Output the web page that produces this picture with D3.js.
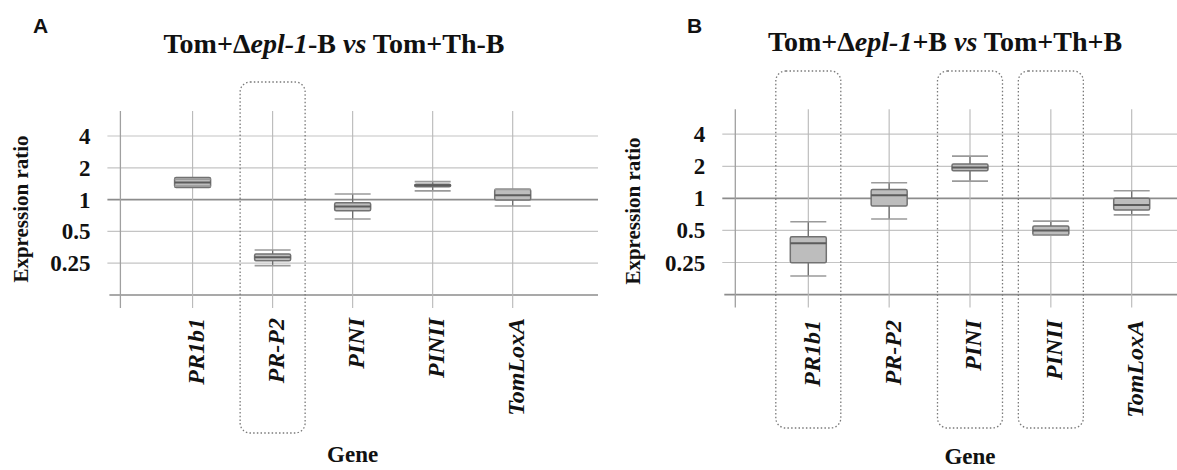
<!DOCTYPE html>
<html>
<head>
<meta charset="utf-8">
<script src="https://cdn.jsdelivr.net/npm/d3@7"></script>
<style>
body { margin: 0; background: #fff; }
text { font-family: "Liberation Serif", "Times New Roman", serif; font-weight: bold; fill: #111; }
</style>
</head>
<body>
<svg></svg>
<script>
var width = 1177,
    height = 470;

var genes = ["PR1b1", "PR-P2", "PINI", "PINII", "TomLoxA"];
var tickValues = [4, 2, 1, 0.5, 0.25];
var tickLabels = ["4", "2", "1", "0.5", "0.25"];

// A : Tom+Δepl-1-B vs Tom+Th-B
var medianA = [1.45, 0.285, 0.86, 1.37, 1.1];
var q1A     = [1.30, 0.264, 0.785, 1.32, 0.99];
var q3A     = [1.62, 0.306, 0.935, 1.40, 1.25];
var lowA    = [1.34, 0.237, 0.655, 1.21, 0.87];
var highA   = [1.56, 0.333, 1.13, 1.48, 1.25];
var markedA = ["PR-P2"];

// B : Tom+Δepl-1+B vs Tom+Th+B
var medianB = [0.379, 1.07, 1.95, 0.50, 0.865];
var q1B     = [0.249, 0.847, 1.815, 0.453, 0.777];
var q3B     = [0.436, 1.21, 2.10, 0.55, 1.0];
var lowB    = [0.187, 0.64, 1.45, 0.45, 0.70];
var highB   = [0.603, 1.40, 2.49, 0.612, 1.18];
var markedB = ["PR1b1", "PINI", "PINII"];

var svg = d3.select("svg").attr("width", width).attr("height", height);

function rows(med, q1, q3, lo, hi) {
    return genes.map(function(g, i) {
        return {gene: g, median: med[i], q1: q1[i], q3: q3[i], low: lo[i], high: hi[i]};
    });
}

function drawPanel(o) {
    var g = svg.append("g");
    var x = d3.scalePoint().domain(genes).range([o.first, o.last]);
    var y = d3.scaleLog().base(2).domain([0.125, 4]).range([o.bottom, o.top4]);
    var boxW = 36;

    // horizontal grid
    g.selectAll(".hgrid").data(tickValues.concat([0.125]))
        .enter().append("line")
        .attr("x1", function(d) { return d == 0.125 ? o.axisX - 11 : o.axisX - 13; })
        .attr("x2", o.right)
        .attr("y1", function(d) { return y(d); })
        .attr("y2", function(d) { return y(d); })
        .style("stroke", function(d) { return (d == 1 || d == 0.125) ? "#8c8c8c" : "#c4c4c4"; })
        .style("stroke-width", function(d) { return (d == 1 || d == 0.125) ? 1.6 : 1.2; });

    // vertical grid + y axis
    g.selectAll(".vgrid").data(genes)
        .enter().append("line")
        .attr("x1", function(d) { return x(d); })
        .attr("x2", function(d) { return x(d); })
        .attr("y1", y(4) - 25)
        .attr("y2", y(0.125) + 13)
        .style("stroke", "#b8b8b8")
        .style("stroke-width", 1.1);
    g.append("line")
        .attr("x1", o.axisX).attr("x2", o.axisX)
        .attr("y1", y(4) - 25).attr("y2", y(0.125) + 13)
        .style("stroke", "#a0a0a0")
        .style("stroke-width", 1.3);

    // dotted frames
    g.selectAll(".frame").data(o.marked)
        .enter().append("rect")
        .attr("x", function(d) { return x(d) - 32.5; })
        .attr("y", o.frameTop)
        .attr("width", 65)
        .attr("height", o.frameBottom - o.frameTop)
        .attr("rx", 10)
        .style("fill", "none")
        .style("stroke", "#7a7a7a")
        .style("stroke-width", 1.3)
        .style("stroke-dasharray", "1.5,2.2");

    // boxes
    var box = g.selectAll(".box").data(o.data).enter().append("g");
    box.append("line")
        .attr("x1", function(d) { return x(d.gene); })
        .attr("x2", function(d) { return x(d.gene); })
        .attr("y1", function(d) { return y(d.high); })
        .attr("y2", function(d) { return y(d.low); })
        .style("stroke", "#6e6e6e")
        .style("stroke-width", 1.3);
    box.append("rect")
        .attr("x", function(d) { return x(d.gene) - boxW / 2; })
        .attr("y", function(d) { return y(d.q3); })
        .attr("width", boxW)
        .attr("height", function(d) { return y(d.q1) - y(d.q3); })
        .attr("rx", 1.5)
        .style("fill", "#bdbdbd")
        .style("stroke", "#727272")
        .style("stroke-width", 1.5);
    box.selectAll(".cap").data(function(d) { return [{gene: d.gene, v: d.high}, {gene: d.gene, v: d.low}]; })
        .enter().append("line")
        .attr("x1", function(d) { return x(d.gene) - boxW / 2; })
        .attr("x2", function(d) { return x(d.gene) + boxW / 2; })
        .attr("y1", function(d) { return y(d.v); })
        .attr("y2", function(d) { return y(d.v); })
        .style("stroke", "#9a9a9a")
        .style("stroke-width", 1.6);
    box.append("line")
        .attr("x1", function(d) { return x(d.gene) - boxW / 2; })
        .attr("x2", function(d) { return x(d.gene) + boxW / 2; })
        .attr("y1", function(d) { return y(d.median); })
        .attr("y2", function(d) { return y(d.median); })
        .style("stroke", "#5c5c5c")
        .style("stroke-width", 2);

    // tick labels
    g.selectAll(".tick").data(tickValues)
        .enter().append("text")
        .attr("x", o.axisX - 30)
        .attr("y", function(d) { return y(d); })
        .attr("dy", "0.35em")
        .attr("text-anchor", "end")
        .style("font-size", "23px")
        .text(function(d, i) { return tickLabels[i]; });

    // gene labels
    g.selectAll(".glab").data(genes)
        .enter().append("text")
        .attr("transform", function(d) { return "translate(" + (x(d) + 3) + "," + o.labelEnd + ") rotate(-90)"; })
        .attr("dy", "0.35em")
        .attr("text-anchor", "end")
        .style("font-size", "24px")
        .style("font-style", "italic")
        .text(function(d) { return d; });

    // axis titles
    g.append("text")
        .attr("transform", "translate(" + o.yTitleX + "," + o.yTitleY + ") rotate(-90)")
        .attr("dy", "0.35em")
        .attr("text-anchor", "middle")
        .style("font-size", "21px")
        .text("Expression ratio");
    g.append("text")
        .attr("x", (o.first + o.last) / 2)
        .attr("y", o.geneY)
        .attr("text-anchor", "middle")
        .style("font-size", "23px")
        .text("Gene");

    // panel title
    var t = g.append("text")
        .attr("x", o.titleX)
        .attr("y", o.titleY)
        .attr("text-anchor", "middle")
        .style("font-size", "28px");
    o.title.forEach(function(p) {
        t.append("tspan").style("font-style", p[1] ? "italic" : "normal").text(p[0]);
    });

    g.append("text")
        .attr("x", o.letterX)
        .attr("y", 33)
        .style("font-family", "'Liberation Sans', Arial, sans-serif")
        .style("font-size", "21px")
        .text(o.letter);
}

drawPanel({
    letter: "A", letterX: 33,
    title: [["Tom+Δ", false], ["epl-1", true], ["-B ", false], ["vs", true], [" Tom+Th-B", false]],
    titleX: 334, titleY: 53,
    axisX: 120.4, first: 192.6, last: 512.7, right: 598,
    bottom: 295, top4: 136,
    frameTop: 82, frameBottom: 433,
    labelEnd: 318, geneY: 462,
    yTitleX: 21, yTitleY: 209,
    marked: markedA,
    data: rows(medianA, q1A, q3A, lowA, highA)
});

drawPanel({
    letter: "B", letterX: 687,
    title: [["Tom+Δ", false], ["epl-1", true], ["+B ", false], ["vs", true], [" Tom+Th+B", false]],
    titleX: 945, titleY: 51,
    axisX: 735.3, first: 808.3, last: 1131.7, right: 1177,
    bottom: 294.6, top4: 134.2,
    frameTop: 71, frameBottom: 428,
    labelEnd: 320, geneY: 464,
    yTitleX: 633, yTitleY: 211,
    marked: markedB,
    data: rows(medianB, q1B, q3B, lowB, highB)
});
</script>
</body>
</html>
